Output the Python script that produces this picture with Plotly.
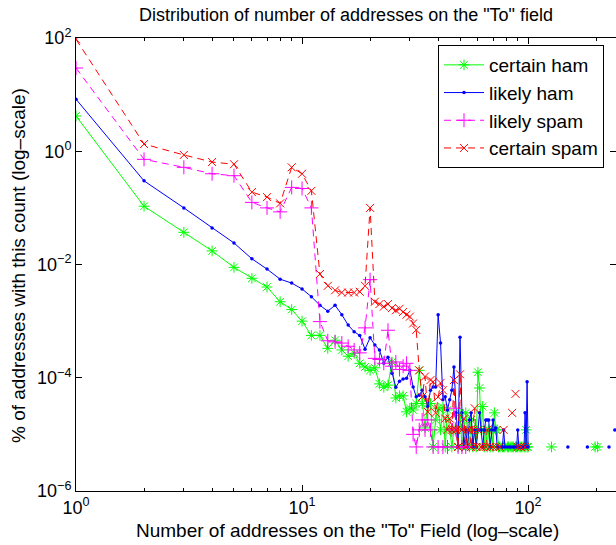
import plotly.graph_objects as go

# ---------------- data ----------------
counts = list(range(1, 101))

certain_ham = [
    4.2, 0.107, 0.037, 0.0174, 0.0089, 0.0057, 0.0040, 0.0022, 0.0016, 0.0010,
    5.6e-4, 5.6e-4, 3.3e-4, 4.6e-4, 3.1e-4, 2.4e-4, 2.7e-4, 1.8e-4, 1.55e-4, 1.35e-4,
    1.5e-4, 7.8e-5, 6.8e-5, 7.4e-5, 1.9e-4, 4.4e-5, 4.8e-5, 4.8e-5, 2.5e-5, 2.9e-5,
    2.7e-5, 3.5e-5, 1.35e-4, 3.5e-5, 1.3e-5, 3.5e-5, 3.5e-5, 6e-6, 1.8e-5, 2.9e-5,
    1.2e-5, 3.0e-5, 6e-6, 2.7e-5, 1.2e-5, 6e-6, 1.2e-5, 1.2e-5, 6e-6, 2.4e-5,
    6e-6, 1.2e-5, 2.4e-5, 1.2e-5, 6e-6, 1.8e-5, 6e-6, 1.2e-5, 6e-6, 1.25e-4,
    6.6e-5, 1.2e-5, 3.1e-5, 6e-6, 1.2e-5, 6e-6, 1.2e-5, 6e-6, 1.2e-5, 6e-6,
    2.4e-5, 1.2e-5, 1.2e-5, 6e-6, 6e-6, None, 6e-6, 6e-6, 6e-6, None,
    6e-6, 6e-6, None, 6e-6, 6e-6, 6e-6, None, 6e-6, 6e-6, 6e-6,
    None, 6e-6, 6e-6, 6e-6, None, 6e-6, 6e-6, 1.2e-5, 6e-6, 6e-6,
]
certain_ham_extra_x = [127, 198, 203]
certain_ham_extra_y = [6e-6, 6e-6, 6e-6]

likely_ham = [
    8.3, 0.30, 0.10, 0.044, 0.024, 0.0126, 0.0083, 0.0055, 0.0047, 0.0037,
    0.0027, 0.0019, 0.0015, 0.0019, 0.0013, 8.5e-4, 6.5e-4, 5.6e-4, 3.2e-4, 5.1e-4,
    3.8e-4, 3.1e-4, 1.8e-4, 2.3e-4, 1.2e-4, 6.8e-5, 8.7e-5, 9.5e-5, 9.8e-5, 1.35e-4,
    6.9e-5, 4.6e-5, 4.9e-5, 6.0e-5, 4.6e-5, 3.1e-5, 6.0e-5, 6.9e-5, 6.9e-5, 1.3e-3,
    4.1e-4, 4.1e-5, 4.6e-5, 2.7e-5, 4.1e-5, 6.0e-5, 1.55e-4, 2.4e-5, 6e-6, 5.2e-4,
    2.4e-5, 6e-6, 1.2e-5, 6e-6, 1.8e-5, 2.4e-5, 6e-6, 1.2e-5, 6e-6, 1.2e-5,
    2.4e-5, 1.2e-5, 6e-6, 1.2e-5, 1.8e-5, 1.8e-5, 1.8e-5, 6e-6, 1.2e-5, 1.8e-5,
    1.2e-5, 1.3e-5, 6e-6, 6e-6, None, 6e-6, 6e-6, 1.2e-5, 6e-6, None,
    6e-6, None, 6e-6, 6e-6, None, 6e-6, 6e-6, None, 6e-6, 1.2e-5,
    6e-6, None, 6e-6, 6e-6, 6e-6, 6e-6, 2.4e-5, 6e-6, 8.5e-5, 6e-6,
]
likely_ham_extra_x = [150, 183, 228, 242]
likely_ham_extra_y = [6e-6, 6e-6, 6e-6, 1.2e-5]

likely_spam = [
    29.5, 0.72, 0.52, 0.40, 0.37, 0.125, 0.10, 0.085, 0.23, 0.22,
    0.10, 9.8e-4, 4.5e-4, 4.3e-4, 4.1e-4, 3.6e-4, 3.1e-4, 2.75e-4, 7.6e-4, 5.4e-3,
    2.2e-4, 2.1e-4, 1.8e-4, 6.9e-4, 1.6e-4, 1.9e-4, 1.4e-4, 1.6e-4, 1.8e-4, 1.35e-4,
    1.0e-5, 6e-6, 1.2e-5, 1.8e-5, 1.2e-5, 1.8e-5, 1.2e-5, 6e-6, None, 6e-6,
    None, 6e-6, None, 6e-6, None, 1.2e-5, 2.9e-5, 1.2e-5, 6e-6, None,
    6e-6, None, 6e-6,
]

certain_spam = [
    95, 1.34, 0.86, 0.645, 0.59, 0.19, 0.155, 0.12, 0.52, 0.40,
    0.20, 6.8e-3, 4.2e-3, 3.5e-3, 3.2e-3, 3.2e-3, 3.2e-3, 3.3e-3, 4.2e-3, 0.10,
    2.2e-3, 2.0e-3, 1.8e-3, 2.0e-3, 1.7e-3, 1.55e-3, 1.65e-3, 1.45e-3, 1.3e-3, 1.2e-3,
    9.1e-4, 7.0e-4, 1.35e-4, 4.6e-5, 1.05e-4, 2.5e-5, 9.1e-5, 8.5e-5, 2.4e-5, 4.6e-5,
    8.1e-5, 6.0e-5, 1.9e-5, 1.2e-5, 1.9e-5, 1.2e-5, 9.1e-5, 1.2e-5, 6e-6, 1.15e-4,
    1.2e-5, 1.9e-5, 6e-6, 1.2e-5, 1.2e-5, 6e-6, 1.2e-5, 2.9e-5, 6e-6, 1.2e-5,
    None, 6e-6, 6e-6, None, 6e-6, 1.2e-5, None, 6e-6, None, 6e-6,
    None, 6e-6, None, None, 6e-6, None, None, 1.2e-5, None, None,
    None, None, None, None, 2.4e-5, None, None, 5.2e-5, None, 6e-6,
    None, None, 6e-6, None, None, None, 6e-6, None, None, None,
]

series_names = ["certain ham", "likely ham", "likely spam", "certain spam"]
x_tick_vals = [1, 10, 100]
x_tick_text = ["10<sup>0</sup>", "10<sup>1</sup>", "10<sup>2</sup>"]
y_tick_vals = [1e-6, 1e-4, 1e-2, 1, 100]
y_tick_text = ["10<sup>−6</sup>", "10<sup>−4</sup>", "10<sup>−2</sup>", "10<sup>0</sup>", "10<sup>2</sup>"]

# ---------------- figure ----------------
def with_gaps(xs, ys, ex_x, ex_y):
    X = list(xs) + [None]
    Y = list(ys) + [None]
    for a, b in zip(ex_x, ex_y):
        X += [a, None]
        Y += [b, None]
    return X, Y

FONT = "Liberation Sans, Arial, Helvetica, sans-serif"
fig = go.Figure()

gx, gy = with_gaps(counts, certain_ham, certain_ham_extra_x, certain_ham_extra_y)
fig.add_trace(go.Scatter(
    x=gx, y=gy, name=series_names[0], mode="lines+markers", connectgaps=False,
    line=dict(color="rgb(0,255,0)", width=1),
    marker=dict(symbol="asterisk-open", size=9, line=dict(color="rgb(0,255,0)", width=1))))

bx, by = with_gaps(counts, likely_ham, likely_ham_extra_x, likely_ham_extra_y)
fig.add_trace(go.Scatter(
    x=bx, y=by, name=series_names[1], mode="lines+markers", connectgaps=False,
    line=dict(color="rgb(0,0,255)", width=1),
    marker=dict(symbol="circle", size=3.5, color="rgb(0,0,255)")))

fig.add_trace(go.Scatter(
    x=counts[:len(likely_spam)], y=likely_spam, name=series_names[2], mode="lines+markers",
    connectgaps=False,
    line=dict(color="rgb(255,0,255)", width=1, dash="7px,5px"),
    marker=dict(symbol="cross-thin-open", size=10, line=dict(color="rgb(255,0,255)", width=1))))

fig.add_trace(go.Scatter(
    x=counts, y=certain_spam, name=series_names[3], mode="lines+markers", connectgaps=False,
    line=dict(color="rgb(255,0,0)", width=1, dash="7px,5px"),
    marker=dict(symbol="x-thin-open", size=8, line=dict(color="rgb(255,0,0)", width=1))))

L, R, T, B = 76, 0, 38, 54
W, H = 616, 545
pw, ph = W - L - R, H - T - B

axis_common = dict(
    type="log", showgrid=False, zeroline=False, showline=True, linecolor="black",
    linewidth=1, mirror="ticks", ticks="inside", ticklen=6, tickcolor="black",
    tickfont=dict(family=FONT, size=18, color="black"),
)
minor_x = [m * 10 ** e for e in range(0, 3) for m in range(2, 10)]
fig.update_xaxes(
    **axis_common, range=[0, 2.389], tickvals=x_tick_vals, ticktext=x_tick_text,
    minor=dict(tickvals=minor_x, ticks="inside", ticklen=3, tickcolor="black"))
fig.update_yaxes(
    **axis_common, range=[-6, 2], tickvals=y_tick_vals, ticktext=y_tick_text)

fig.update_layout(
    width=W, height=H, margin=dict(l=L, r=R, t=T, b=B, pad=0),
    plot_bgcolor="white", paper_bgcolor="white",
    font=dict(family=FONT, size=18, color="black"),
    title=dict(text='Distribution of number of addresses on the "To" field',
               x=(L + pw / 2) / W, xanchor="center", y=1 - 15 / H, yanchor="middle",
               font=dict(family=FONT, size=18, color="black")),
    legend=dict(x=(438 - L) / pw, y=(H - B - 45) / ph, xanchor="left", yanchor="top",
                bgcolor="white", bordercolor="black", borderwidth=1,
                font=dict(family=FONT, size=19, color="black"),
                itemwidth=40, tracegroupgap=0),
    showlegend=True,
)
fig.add_annotation(text='Number of addresses on the "To" Field (log–scale)',
                   xref="paper", yref="paper", x=(347.5 - L) / pw, y=(H - B - 530) / ph,
                   xanchor="center", yanchor="middle", showarrow=False,
                   font=dict(family=FONT, size=19, color="black"))
fig.add_annotation(text="% of addresses with this count (log–scale)",
                   xref="paper", yref="paper", x=(18 - L) / pw, y=(H - B - 266) / ph,
                   xanchor="center", yanchor="middle", textangle=-90, showarrow=False,
                   font=dict(family=FONT, size=19, color="black"))

fig.write_html("out.html", config={"displayModeBar": False},
               post_script="document.body.style.margin='0px';")
